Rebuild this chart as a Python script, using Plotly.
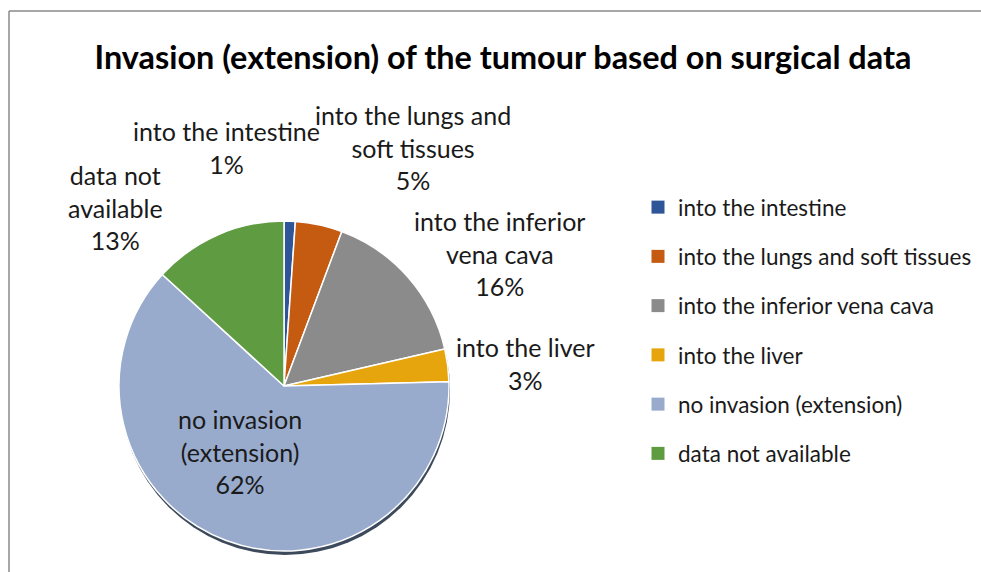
import plotly.graph_objects as go

categories = ["into the intestine", "into the lungs and soft tissues", "into the inferior vena cava",
              "into the liver", "no invasion (extension)", "data not available"]
slice_labels = ["into the intestine", "into the lungs and<br>soft tissues", "into the inferior<br>vena cava",
                "into the liver", "no invasion<br>(extension)", "data not<br>available"]
values = [1.1, 4.6, 15.7, 3.2, 62.2, 13.2]
colors = ["#2d5597", "#c55a11", "#8b8b8b", "#e6a50c", "#98abcd", "#5f9b40"]

title_text = "Invasion (extension) of the tumour based on surgical data"
FONT = "Lato"
W, H = 981, 572

# label anchor positions (pixel centre of label block)
label_pos = [(226, 147), (413, 147), (500, 253), (525, 363), (240, 451), (115, 207)]

total = sum(values)
pcts = [round(v / total * 100) for v in values]

fig = go.Figure()

cx, cy, r = 284, 386, 165
fig.add_trace(go.Pie(
    labels=categories, values=values, sort=False, direction="clockwise", rotation=0,
    marker=dict(colors=colors, line=dict(color="white", width=1.5)),
    textinfo="none", hoverinfo="label+percent", showlegend=False,
    domain=dict(x=[(cx - r) / W, (cx + r) / W], y=[(H - cy - r) / H, (H - cy + r) / H]),
))

# legend entries
for cat, col in zip(categories, colors):
    fig.add_trace(go.Scatter(x=[None], y=[None], mode="markers", name=cat, legendgroup=cat,
                             marker=dict(symbol="square", size=13, color=col)))

annotations = []
for (px, py), lab, p in zip(label_pos, slice_labels, pcts):
    annotations.append(dict(x=px / W, y=1 - py / H, xref="paper", yref="paper",
                            text=f"{lab}<br>{p}%", showarrow=False, align="center",
                            xanchor="center", yanchor="middle",
                            font=dict(family=FONT, size=25, color="#1a1a1a")))

shapes = [
    dict(type="circle", xref="paper", yref="paper", layer="below",
         x0=(cx - r + 1) / W, x1=(cx + r + 1) / W, y0=(H - cy - r - 4) / H, y1=(H - cy + r - 4) / H,
         fillcolor="#3d4a5c", line=dict(width=0)),
    dict(type="line", xref="paper", yref="paper", x0=9 / W, x1=1, y0=1 - 11 / H, y1=1 - 11 / H,
         line=dict(color="#8a8a8a", width=1.5)),
    dict(type="line", xref="paper", yref="paper", x0=9 / W, x1=9 / W, y0=0, y1=1 - 11 / H,
         line=dict(color="#8a8a8a", width=1.5)),
]

fig.update_layout(
    width=W, height=H, margin=dict(l=0, r=0, t=0, b=0),
    paper_bgcolor="white", plot_bgcolor="white",
    title=dict(text=f"<b>{title_text}</b>", x=503 / W, xanchor="center", y=1 - 58 / H, yanchor="middle",
               font=dict(family=FONT, size=32.4, color="#000000")),
    xaxis=dict(visible=False), yaxis=dict(visible=False),
    legend=dict(x=638 / W, y=1 - 186 / H, xanchor="left", yanchor="top",
                font=dict(family=FONT, size=22.5, color="#1a1a1a"), tracegroupgap=17,
                bgcolor="rgba(0,0,0,0)", borderwidth=0),
    annotations=annotations, shapes=shapes,
)

fig.write_html("out.html")
